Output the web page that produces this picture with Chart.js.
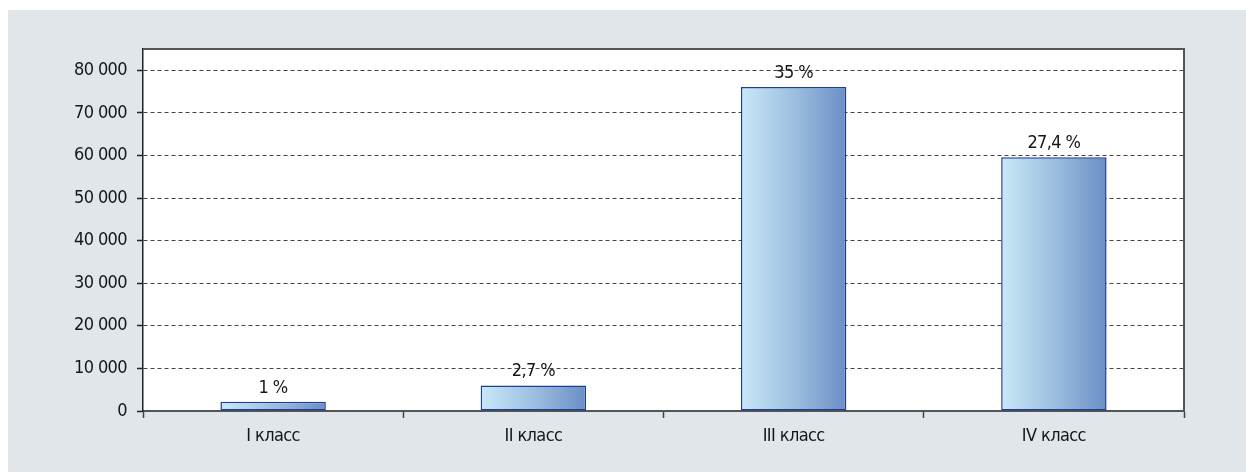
<!DOCTYPE html>
<html>
<head>
<meta charset="utf-8">
<script src="https://cdn.jsdelivr.net/npm/chart.js@4.4.1/dist/chart.umd.min.js"></script>
<style>
  html, body { margin: 0; padding: 0; background: #ffffff; }
  #wrap { width: 1246px; height: 473px; position: relative; }
</style>
</head>
<body>
<div id="wrap"><canvas id="c" width="1246" height="473"></canvas></div>
<script>
// Distribution by class: counts and their shares of the total
const categories = ['I класс', 'II класс', 'III класс', 'IV класс'];
const values = [2200, 6000, 76100, 59600];
const shareLabels = ['1 %', '2,7 %', '35 %', '27,4 %'];
const yTickValues = [0, 10000, 20000, 30000, 40000, 50000, 60000, 70000, 80000];

const FONT = '"DejaVu Sans Condensed", "Liberation Sans Narrow", "Liberation Sans", sans-serif';
const FONT_SIZE = 18;
const TEXT = '#161616';

function groupThousands(v) {
  return String(v).replace(/\B(?=(\d{3})+(?!\d))/g, ' ');
}

// Gray panel behind the chart and the white plot area
const panel = {
  id: 'panel',
  beforeDraw(chart) {
    const { ctx, chartArea: a } = chart;
    // slightly tighter tracking for all text drawn on this canvas
    ctx.letterSpacing = '-0.6px';
    ctx.save();
    ctx.fillStyle = '#ffffff';
    ctx.fillRect(0, 0, chart.width, chart.height);
    ctx.fillStyle = '#e1e6ea';
    ctx.fillRect(8, 10, chart.width - 8, 462);
    ctx.fillStyle = '#ffffff';
    ctx.fillRect(a.left, a.top, a.right - a.left, a.bottom - a.top);
    ctx.restore();
  },
  afterDraw(chart) {
    // top and right frame lines
    const { ctx, chartArea: a } = chart;
    ctx.save();
    ctx.strokeStyle = '#555555';
    ctx.lineWidth = 2;
    ctx.beginPath();
    ctx.moveTo(a.left, a.top);
    ctx.lineTo(a.right, a.top);
    ctx.lineTo(a.right, a.bottom);
    ctx.stroke();
    ctx.restore();
  }
};

// Horizontal light-to-dark blue fill on each bar (own options object per bar)
const barGradient = {
  id: 'barGradient',
  beforeDatasetsDraw(chart) {
    const { ctx } = chart;
    chart.getDatasetMeta(0).data.forEach(el => {
      const half = el.width / 2;
      const g = ctx.createLinearGradient(el.x - half, 0, el.x + half, 0);
      g.addColorStop(0, '#c9e8f8');
      g.addColorStop(0.5, '#9dbfe0');
      g.addColorStop(1, '#6b8ec6');
      el.options = Object.assign({}, el.options, { backgroundColor: g });
    });
  }
};

// Share of total written above each bar
const shareText = {
  id: 'shareText',
  afterDatasetsDraw(chart) {
    const { ctx } = chart;
    ctx.save();
    ctx.font = FONT_SIZE + 'px ' + FONT;
    ctx.fillStyle = TEXT;
    ctx.textAlign = 'center';
    ctx.textBaseline = 'alphabetic';
    chart.getDatasetMeta(0).data.forEach((el, i) => {
      ctx.fillText(shareLabels[i], el.x, el.y - 9);
    });
    ctx.restore();
  }
};

new Chart(document.getElementById('c'), {
  type: 'bar',
  data: {
    labels: categories,
    datasets: [{
      data: values,
      backgroundColor: '#9dbfe0',
      borderColor: '#1f3d94',
      borderWidth: 1.5,
      borderSkipped: false,
      categoryPercentage: 1,
      barPercentage: 0.405
    }]
  },
  options: {
    responsive: false,
    animation: false,
    devicePixelRatio: 1,
    layout: { padding: { left: 0, top: 49, right: 62, bottom: 0 } },
    plugins: { legend: { display: false }, tooltip: { enabled: false } },
    scales: {
      x: {
        afterFit(scale) { scale.height = 62; },
        grid: {
          offset: true,
          drawOnChartArea: false,
          drawTicks: true,
          tickLength: 7,
          tickColor: '#444444',
          tickWidth: 1.5
        },
        border: { display: true, color: '#555555', width: 2 },
        ticks: {
          color: TEXT,
          font: { family: FONT, size: FONT_SIZE },
          padding: 8
        }
      },
      y: {
        min: 0,
        max: 85000,
        afterFit(scale) { scale.width = 143; },
        afterBuildTicks(scale) {
          scale.ticks = yTickValues.map(v => ({ value: v }));
        },
        grid: {
          color: '#444444',
          lineWidth: 1,
          borderDash: [4, 3],
          drawTicks: true,
          tickLength: 6,
          tickColor: '#222222',
          tickWidth: 1.5,
          tickBorderDash: []
        },
        border: { display: true, color: '#222222', width: 1.5, dash: [4, 3] },
        ticks: {
          color: TEXT,
          font: { family: FONT, size: FONT_SIZE },
          padding: 10,
          callback: v => groupThousands(v)
        }
      }
    }
  },
  plugins: [panel, barGradient, shareText]
});
</script>
</body>
</html>
